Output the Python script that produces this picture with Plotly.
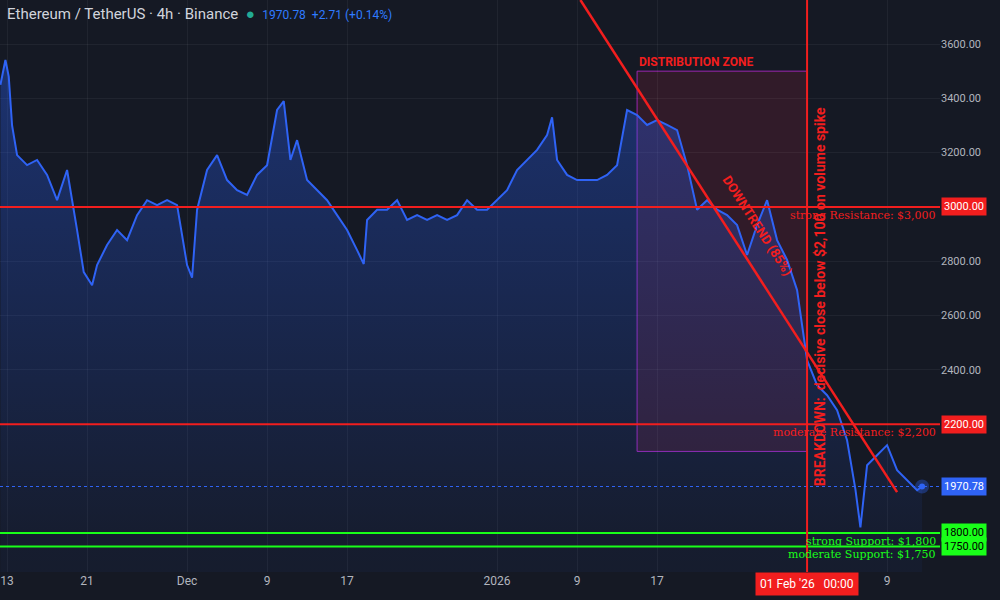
import plotly.graph_objects as go

# ETH/USDT approx closes
dates = [
    "2025-11-12 08:00", "2025-11-12 20:00", "2025-11-13 04:00", "2025-11-13 12:00", "2025-11-14 00:00",
    "2025-11-15 00:00", "2025-11-16 00:00", "2025-11-17 00:00", "2025-11-18 00:00", "2025-11-19 00:00",
    "2025-11-20 00:00", "2025-11-20 16:00", "2025-11-21 12:00", "2025-11-22 00:00", "2025-11-23 00:00",
    "2025-11-24 00:00", "2025-11-25 00:00", "2025-11-26 00:00", "2025-11-27 00:00", "2025-11-28 00:00",
    "2025-11-29 00:00", "2025-11-30 00:00", "2025-12-01 00:00", "2025-12-01 12:00", "2025-12-02 00:00",
    "2025-12-03 00:00", "2025-12-04 00:00", "2025-12-05 00:00", "2025-12-06 00:00", "2025-12-07 00:00",
    "2025-12-08 00:00", "2025-12-09 00:00", "2025-12-10 00:00", "2025-12-10 16:00", "2025-12-11 08:00",
    "2025-12-12 00:00", "2025-12-13 00:00", "2025-12-14 00:00", "2025-12-15 00:00", "2025-12-16 00:00",
    "2025-12-17 00:00", "2025-12-18 00:00", "2025-12-18 16:00", "2025-12-19 00:00", "2025-12-20 00:00",
    "2025-12-21 00:00", "2025-12-22 00:00", "2025-12-23 00:00", "2025-12-24 00:00", "2025-12-25 00:00",
    "2025-12-26 00:00", "2025-12-27 00:00", "2025-12-28 00:00", "2025-12-29 00:00", "2025-12-30 00:00",
    "2025-12-31 00:00", "2026-01-01 00:00", "2026-01-02 00:00", "2026-01-03 00:00", "2026-01-04 00:00",
    "2026-01-05 00:00", "2026-01-06 00:00", "2026-01-06 12:00", "2026-01-07 00:00", "2026-01-08 00:00",
    "2026-01-09 00:00", "2026-01-10 00:00", "2026-01-11 00:00", "2026-01-12 00:00", "2026-01-13 00:00",
    "2026-01-14 00:00", "2026-01-15 00:00", "2026-01-16 00:00", "2026-01-17 00:00", "2026-01-18 00:00",
    "2026-01-19 00:00", "2026-01-20 00:00", "2026-01-21 00:00", "2026-01-22 00:00", "2026-01-23 00:00",
    "2026-01-24 00:00", "2026-01-25 00:00", "2026-01-26 00:00", "2026-01-27 00:00", "2026-01-28 00:00",
    "2026-01-29 00:00", "2026-01-30 00:00", "2026-01-31 00:00", "2026-02-01 00:00", "2026-02-02 00:00",
    "2026-02-03 00:00", "2026-02-04 00:00", "2026-02-05 00:00", "2026-02-05 20:00", "2026-02-06 08:00",
    "2026-02-07 00:00", "2026-02-08 00:00", "2026-02-09 00:00", "2026-02-10 00:00", "2026-02-11 00:00",
    "2026-02-12 00:00", "2026-02-12 12:00",
]
closes = [
    3450, 3541, 3480, 3300, 3191,
    3154, 3173, 3118, 3025, 3136,
    2915, 2760, 2712, 2786, 2860,
    2915, 2878, 2970, 3025, 3007,
    3025, 3007, 2786, 2740, 2990,
    3136, 3191, 3099, 3062, 3044,
    3118, 3154, 3357, 3390, 3173,
    3246, 3099, 3062, 3025, 2970,
    2915, 2841, 2790, 2952, 2990,
    2990, 3025, 2952, 2970, 2952,
    2970, 2952, 2970, 3025, 2990,
    2990, 3025, 3062, 3136, 3173,
    3210, 3265, 3330, 3173, 3118,
    3099, 3099, 3099, 3118, 3154,
    3357, 3338, 3302, 3320, 3302,
    3283, 3154, 2990, 3025, 2990,
    2970, 2933, 2823, 2933, 3025,
    2878, 2805, 2694, 2436, 2344,
    2307, 2252, 2141, 1960, 1820,
    2049, 2086, 2123, 2031, 1994,
    1957, 1970.78,
]

last_price = 1970.78
resistances = [3000, 2200]
resistance_labels = ["strong Resistance: $3,000", "moderate Resistance: $2,200"]
supports = [1800, 1750]
support_labels = ["strong Support: $1,800", "moderate Support: $1,750"]
tick_dates = ["2025-11-13", "2025-11-21", "2025-12-01", "2025-12-09", "2025-12-17",
              "2026-01-01", "2026-01-09", "2026-01-17", "2026-02-09"]
tick_text = ["13", "21", "Dec", "9", "17", "2026", "9", "17", "9"]
price_ticks = [2400, 2600, 2800, 3200, 3400, 3600]

BG = "#151924"
RED = "#f21e1e"
GREEN = "#19ff19"
BLUE = "#2f63f5"

fig = go.Figure()
fig.add_trace(go.Scatter(
    x=dates, y=closes, mode="lines", line=dict(color=BLUE, width=2),
    fill="tozeroy",
    fillgradient=dict(type="vertical", colorscale=[[0, "rgba(41,98,255,0)"], [0.5, "rgba(41,98,255,0.05)"], [1, "rgba(41,98,255,0.35)"]]),
    hoverinfo="skip", showlegend=False,
))
fig.add_trace(go.Scatter(
    x=[dates[-1]], y=[closes[-1]], mode="markers",
    marker=dict(size=6, color=BLUE, line=dict(color="rgba(47,99,245,0.35)", width=8)),
    showlegend=False, hoverinfo="skip",
))

shapes = []
# distribution zone
shapes.append(dict(type="rect", xref="x", yref="y", x0="2026-01-15 00:00", x1="2026-02-01 00:00",
                   y0=2100, y1=3500, line=dict(color="#9c27b0", width=1),
                   fillcolor="rgba(220,40,80,0.14)", layer="below"))
for p in resistances:
    shapes.append(dict(type="line", xref="paper", yref="y", x0=0, x1=1, y0=p, y1=p, line=dict(color=RED, width=2)))
for p in supports:
    shapes.append(dict(type="line", xref="paper", yref="y", x0=0, x1=1, y0=p, y1=p, line=dict(color=GREEN, width=2)))
shapes.append(dict(type="line", xref="paper", yref="y", x0=0, x1=1, y0=last_price, y1=last_price,
                   line=dict(color=BLUE, width=1, dash="dot")))
shapes.append(dict(type="line", xref="x", yref="paper", x0="2026-02-01 00:00", x1="2026-02-01 00:00",
                   y0=0, y1=1, line=dict(color=RED, width=2)))
shapes.append(dict(type="line", xref="x", yref="y", x0="2026-01-09 08:00", y0=3762,
                   x1="2026-02-10 00:00", y1=1950, line=dict(color=RED, width=2.5)))

ann = []
ann.append(dict(xref="paper", yref="paper", x=0.005, y=0.995, xanchor="left", yanchor="top", showarrow=False,
                text="Ethereum / TetherUS · 4h · Binance  <span style='color:#22ab94'>●</span>  "
                     "<span style='color:#2f7bff;font-size:12px'>1970.78  +2.71 (+0.14%)</span>",
                font=dict(color="#d1d4dc", size=15)))
ann.append(dict(x="2026-01-15 00:00", y=3500, xanchor="left", yanchor="bottom", showarrow=False,
                text="<b>DISTRIBUTION ZONE</b>", font=dict(color=RED, size=12)))
ann.append(dict(x="2026-01-27 00:00", y=2930, showarrow=False, textangle=57,
                text="<b>DOWNTREND (85%)</b>", font=dict(color=RED, size=13)))
ann.append(dict(x="2026-02-02 06:00", y=2670, showarrow=False, textangle=-90,
                text="<b>BREAKDOWN:  decisive close below $2,100 on volume spike</b>", font=dict(color=RED, size=14)))
for p, t in zip(resistances, resistance_labels):
    ann.append(dict(xref="paper", x=0.998, y=p, xanchor="right", yanchor="top", showarrow=False,
                    text=t, font=dict(color=RED, size=11, family="DejaVu Serif")))
for p, t in zip(supports, support_labels):
    ann.append(dict(xref="paper", x=0.998, y=p, xanchor="right", yanchor="top", showarrow=False,
                    text=t, font=dict(color=GREEN, size=11, family="DejaVu Serif")))
# price tags on the right axis
for p, c, fc in [(3000, RED, "#fff"), (2200, RED, "#fff"), (last_price, BLUE, "#fff"),
                 (1800, GREEN, "#000"), (1750, GREEN, "#000")]:
    ann.append(dict(xref="paper", x=1.0, y=p, xanchor="left", showarrow=False, text=f"{p:.2f}",
                    bgcolor=c, font=dict(color=fc, size=11), borderpad=2, xshift=1))
ann.append(dict(x="2026-02-01 00:00", yref="paper", y=0, yanchor="top", showarrow=False,
                text="01 Feb '26   00:00", bgcolor=RED, font=dict(color="#fff", size=12), borderpad=4))

fig.update_layout(
    width=1000, height=600, paper_bgcolor=BG, plot_bgcolor=BG,
    margin=dict(l=0, r=60, t=0, b=28),
    shapes=shapes, annotations=ann,
    font=dict(family="Roboto, sans-serif", color="#b2b5be"),
    xaxis=dict(range=["2025-11-12 07:00", "2026-02-14 07:00"], tickvals=tick_dates, ticktext=tick_text,
               showgrid=True, gridcolor="rgba(255,255,255,0.05)", zeroline=False, tickfont=dict(size=12),
               showline=False),
    yaxis=dict(range=[1656, 3762], side="right", tickvals=price_ticks,
               ticktext=[f"{v:.2f}" for v in price_ticks],
               showgrid=True, gridcolor="rgba(255,255,255,0.05)", zeroline=False, tickfont=dict(size=11)),
)
fig.write_html("out.html", config={"displayModeBar": False},
               post_script="document.body.style.margin='0';document.body.style.background='%s';" % BG)
